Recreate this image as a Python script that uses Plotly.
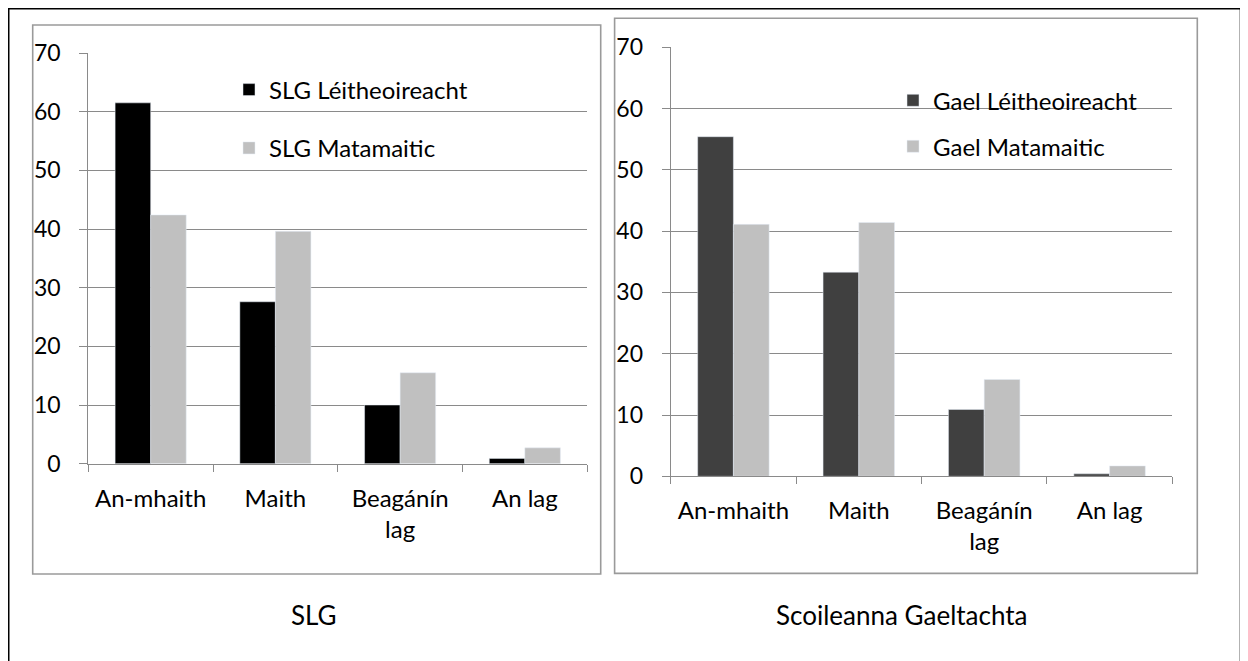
import plotly.graph_objects as go

W, H = 1248, 661
OFF = 8  # page body margin offset
FW, FH = W - OFF, H - OFF

categories = ["An-mhaith", "Maith", "Beagánín<br>lag", "An lag"]
slg_leith = [61.5, 27.6, 10.0, 0.9]
slg_mata = [42.4, 39.6, 15.5, 2.7]
gael_leith = [55.4, 33.3, 10.9, 0.4]
gael_mata = [41.1, 41.4, 15.8, 1.7]
y_ticks = [0, 10, 20, 30, 40, 50, 60, 70]

FONT = "Lato"
GRID = "#8a8a8a"
BOX = "#9a9a9a"

def px_x(p):
    return (p - OFF) / FW

def px_y(p):
    return 1 - (p - OFF) / FH

fig = go.Figure()

fig.add_trace(go.Bar(x=categories, y=slg_leith, name="SLG Léitheoireacht",
                     marker_color="#000000", xaxis="x", yaxis="y", legend="legend"))
fig.add_trace(go.Bar(x=categories, y=slg_mata, name="SLG Matamaitic",
                     marker_color="#c0c0c0", xaxis="x", yaxis="y", legend="legend2"))
fig.add_trace(go.Bar(x=categories, y=gael_leith, name="Gael Léitheoireacht",
                     marker_color="#404040", xaxis="x2", yaxis="y2", legend="legend3"))
fig.add_trace(go.Bar(x=categories, y=gael_mata, name="Gael Matamaitic",
                     marker_color="#c0c0c0", xaxis="x2", yaxis="y2", legend="legend4"))

xtickfont = dict(family=FONT, size=24, color="#000000")
ytickfont = dict(family=FONT, size=23, color="#000000")

def xaxis(domain, anchor):
    return dict(domain=domain, anchor=anchor, type="category",
                showline=True, linecolor=GRID, linewidth=1.2,
                ticks="outside", tickson="boundaries", ticklen=7, tickcolor=GRID,
                ticklabelstandoff=13,
                tickfont=xtickfont, showgrid=False, fixedrange=True)

def yaxis(domain, anchor):
    return dict(domain=domain, anchor=anchor, range=[0, 70], tickvals=y_ticks,
                showline=True, linecolor=GRID, linewidth=1.2,
                ticks="outside", ticklen=8, tickcolor=GRID, ticklabelstandoff=14,
                showgrid=True, gridcolor=GRID, gridwidth=1.3,
                zeroline=False, tickfont=ytickfont, fixedrange=True)

legend_common = dict(font=dict(family=FONT, size=24, color="#000000"),
                     bgcolor="rgba(0,0,0,0)", xanchor="left", yanchor="middle")

fig.update_layout(
    width=FW, height=FH,
    margin=dict(l=0, r=0, t=0, b=0, autoexpand=False),
    paper_bgcolor="white", plot_bgcolor="white",
    barmode="group", bargap=0.43, bargroupgap=0,
    font=dict(family=FONT, size=24, color="#000000"),
    xaxis=xaxis([px_x(88.3), px_x(587.2)], "y"),
    yaxis=yaxis([px_y(463.7), px_y(53.0)], "x"),
    xaxis2=xaxis([px_x(670.7), px_x(1172.3)], "y2"),
    yaxis2=yaxis([px_y(476.3), px_y(47.2)], "x2"),
    legend=dict(x=px_x(229), y=px_y(90), **legend_common),
    legend2=dict(x=px_x(229), y=px_y(148.3), **legend_common),
    legend3=dict(x=px_x(893), y=px_y(100.7), **legend_common),
    legend4=dict(x=px_x(893), y=px_y(146.7), **legend_common),
    showlegend=True,
)

shapes = [
    # outer frame (top, left, right)
    dict(type="line", xref="paper", yref="paper", x0=px_x(8), x1=px_x(1241.5), y0=px_y(8.75), y1=px_y(8.75),
         line=dict(color="#000000", width=1.5)),
    dict(type="line", xref="paper", yref="paper", x0=px_x(8.75), x1=px_x(8.75), y0=px_y(8), y1=px_y(675),
         line=dict(color="#000000", width=1.5)),
    dict(type="line", xref="paper", yref="paper", x0=px_x(1240.7), x1=px_x(1240.7), y0=px_y(8), y1=px_y(675),
         line=dict(color="#000000", width=2)),
    # chart boxes
    dict(type="rect", xref="paper", yref="paper", x0=px_x(32.7), x1=px_x(600.7), y0=px_y(574), y1=px_y(25),
         line=dict(color=BOX, width=1.6)),
    dict(type="rect", xref="paper", yref="paper", x0=px_x(614.6), x1=px_x(1197.3), y0=px_y(573.4), y1=px_y(18.3),
         line=dict(color=BOX, width=1.6)),
]
fig.update_layout(shapes=shapes)

fig.add_annotation(text="SLG", xref="paper", yref="paper", x=px_x(313.7), y=px_y(615),
                   xanchor="center", yanchor="middle", showarrow=False,
                   font=dict(family=FONT, size=26, color="#000000"))
fig.add_annotation(text="Scoileanna Gaeltachta", xref="paper", yref="paper", x=px_x(902.5), y=px_y(615),
                   xanchor="center", yanchor="middle", showarrow=False,
                   font=dict(family=FONT, size=26, color="#000000"))

fig.write_html("out.html")
